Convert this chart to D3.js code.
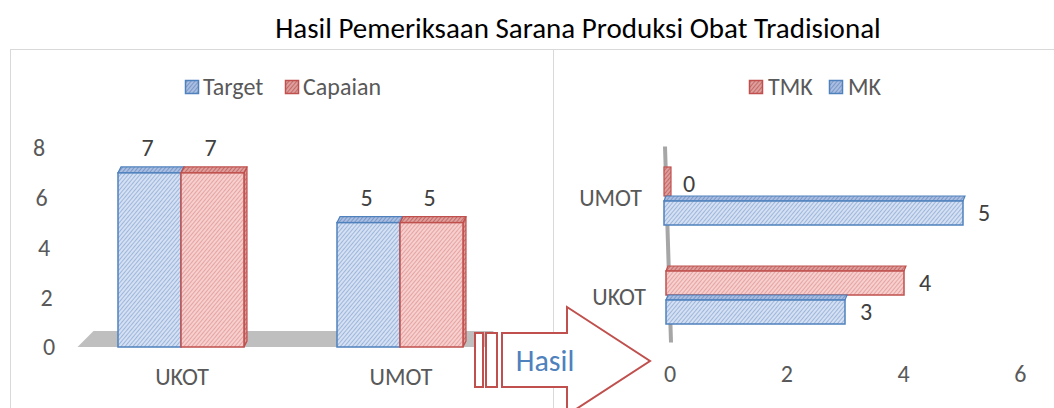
<!DOCTYPE html>
<html>
<head>
<meta charset="utf-8">
<script src="https://cdn.jsdelivr.net/npm/d3@7/dist/d3.min.js"></script>
<style>
body{margin:0;background:#fff;}
svg text{font-family:Carlito, Calibri, Lato, sans-serif;}
</style>
</head>
<body>
<svg id="chart" width="1054" height="408"></svg>
<script>
var title = 'Hasil Pemeriksaan Sarana Produksi Obat Tradisional'

// left chart
var leftCategories = ['UKOT', 'UMOT']
var leftSeries = ['Target', 'Capaian']
var targetValues = [7, 5]
var capaianValues = [7, 5]
var leftTicks = [0, 2, 4, 6, 8]

// right chart (top to bottom)
var rightCategories = ['UMOT', 'UKOT']
var rightSeries = ['TMK', 'MK']
var tmkValues = [0, 4]
var mkValues = [5, 3]
var rightTicks = [0, 2, 4, 6]

var arrowLabel = 'Hasil'

var svg = d3.select('#chart')
var defs = svg.append('defs')

var palette = {
	blue: {bg: '#d5e1f2', line: '#9db6dd', top: '#a9bee0', topLine: '#7b98c9', stroke: '#4f81bd'},
	red: {bg: '#f6d0cf', line: '#e6a3a1', top: '#dc9f9d', topLine: '#c76966', stroke: '#c0504d'}
}
var seriesColor = {Target: 'blue', Capaian: 'red', TMK: 'red', MK: 'blue'}

function makePattern(id, bg, line){
	var p = defs.append('pattern')
		.attr('id', id)
		.attr('patternUnits', 'userSpaceOnUse')
		.attr('width', 3)
		.attr('height', 3)
		.attr('patternTransform', 'rotate(40)')
	p.append('rect').attr('width', 3).attr('height', 3).attr('fill', bg)
	p.append('line').attr('x1', 0.5).attr('y1', 0).attr('x2', 0.5).attr('y2', 3)
		.attr('stroke', line).attr('stroke-width', 1)
}
Object.keys(palette).forEach(function(k){
	makePattern('hatch-' + k, palette[k].bg, palette[k].line)
	makePattern('hatch-top-' + k, palette[k].top, palette[k].topLine)
})

// panel borders
svg.append('line').attr('x1', 10).attr('x2', 1054).attr('y1', 49.5).attr('y2', 49.5).attr('stroke', '#d9d9d9')
svg.append('line').attr('x1', 10.5).attr('x2', 10.5).attr('y1', 49).attr('y2', 408).attr('stroke', '#d9d9d9')
svg.append('line').attr('x1', 553.5).attr('x2', 553.5).attr('y1', 49).attr('y2', 408).attr('stroke', '#d9d9d9')

svg.append('text')
	.attr('x', 578).attr('y', 28).attr('dy', '0.35em')
	.attr('text-anchor', 'middle')
	.attr('font-size', '29px')
	.attr('fill', '#000')
	.text(title)

// legend helper
function legend(items, xs, textXs){
	items.forEach(function(name, i){
		var c = palette[seriesColor[name]]
		svg.append('rect')
			.attr('x', xs[i] + 0.5).attr('y', 80.5).attr('width', 13).attr('height', 13)
			.attr('fill', 'url(#hatch-top-' + seriesColor[name] + ')')
			.attr('stroke', c.stroke).attr('stroke-width', 1.5)
		svg.append('text')
			.attr('x', textXs[i]).attr('y', 87).attr('dy', '0.35em')
			.attr('font-size', '24px').attr('fill', '#595959')
			.text(name)
	})
}

// ---------- left chart ----------
var x0 = d3.scaleBand().domain(leftCategories).range([71.5, 509.5])
var x1 = d3.scaleBand().domain(leftSeries).range([-63, 63])
var y = d3.scaleLinear().domain([0, 8]).range([347, 148])

legend(leftSeries, [185, 285], [203, 303])

// floor
var floorL = x0(leftCategories[0])
var floorR = x0.range()[1]
svg.append('polygon')
	.attr('points', [[floorL + 6, y(0)], [floorR - 20, y(0)], [floorR - 16, y(0) - 16], [floorL + 22, y(0) - 16]].join(' '))
	.attr('fill', '#bfbfbf')

svg.selectAll('.ytick').data(leftTicks).enter()
	.append('text')
	.attr('class', 'ytick')
	.attr('x', function(d){ return 49 - d * 1.25 })
	.attr('y', function(d){ return y(d) })
	.attr('dy', '0.35em')
	.attr('text-anchor', 'middle')
	.attr('font-size', '24px').attr('fill', '#595959')
	.text(function(d){ return d })

var leftData = []
leftCategories.forEach(function(c, i){
	leftData.push({cat: c, series: 'Target', value: targetValues[i]})
	leftData.push({cat: c, series: 'Capaian', value: capaianValues[i]})
})

var depthX = 3, depthY = -6
var bars = svg.selectAll('.lbar').data(leftData).enter()
	.append('g').attr('class', 'lbar')
bars.each(function(d){
	var g = d3.select(this)
	var c = palette[seriesColor[d.series]]
	var col = seriesColor[d.series]
	var xl = x0(d.cat) + x0.bandwidth() / 2 + x1(d.series)
	var xr = xl + x1.bandwidth()
	var yt = y(d.value), yb = y(0)
	// side face
	g.append('polygon')
		.attr('points', [[xr, yt], [xr + depthX, yt + depthY], [xr + depthX, yb + depthY], [xr, yb]].join(' '))
		.attr('fill', 'url(#hatch-top-' + col + ')').attr('stroke', c.stroke).attr('stroke-width', 1.2)
	// top face
	g.append('polygon')
		.attr('points', [[xl, yt], [xl + depthX, yt + depthY], [xr + depthX, yt + depthY], [xr, yt]].join(' '))
		.attr('fill', 'url(#hatch-top-' + col + ')').attr('stroke', c.stroke).attr('stroke-width', 1.2)
	// front face
	g.append('rect')
		.attr('x', xl).attr('y', yt).attr('width', xr - xl).attr('height', yb - yt)
		.attr('fill', 'url(#hatch-' + col + ')').attr('stroke', c.stroke).attr('stroke-width', 1.5)
	g.append('text')
		.attr('x', (xl + xr) / 2 - 2).attr('y', yt - 25).attr('dy', '0.35em')
		.attr('text-anchor', 'middle')
		.attr('font-size', '24px').attr('fill', '#404040')
		.text(d.value)
})

svg.selectAll('.lcat').data(leftCategories).enter()
	.append('text')
	.attr('class', 'lcat')
	.attr('x', function(d){ return x0(d) + x0.bandwidth() / 2 + 1 })
	.attr('y', 377).attr('dy', '0.35em')
	.attr('text-anchor', 'middle')
	.attr('font-size', '24px').attr('fill', '#595959')
	.text(function(d){ return d })

// ---------- right chart ----------
var xr = d3.scaleLinear().domain([0, 6]).range([668, 1022])
var yr0 = d3.scaleBand().domain(rightCategories).range([146.5, 344.5])
var yr1 = d3.scaleBand().domain(rightSeries).range([-29, 29])

legend(rightSeries, [749, 829], [768, 848])

// axis wall
svg.append('polygon')
	.attr('points', [[xr(0) - 5, yr0.range()[0]], [xr(0) - 1, yr0.range()[0]], [xr(0) + 5, yr0.range()[1] - 2], [xr(0) + 1, yr0.range()[1] - 2]].join(' '))
	.attr('fill', '#a6a6a6')

var rightData = []
rightCategories.forEach(function(c, i){
	rightData.push({cat: c, series: 'TMK', value: tmkValues[i]})
	rightData.push({cat: c, series: 'MK', value: mkValues[i]})
})

var hDepth = 5
svg.selectAll('.rbar').data(rightData).enter()
	.append('g').attr('class', 'rbar')
	.each(function(d){
		var g = d3.select(this)
		var c = palette[seriesColor[d.series]]
		var col = seriesColor[d.series]
		var ci = rightCategories.indexOf(d.cat)
		var tilt = ci * 2
		var yt = yr0(d.cat) + yr0.bandwidth() / 2 + yr1(d.series)
		var yb = yt + yr1.bandwidth()
		var xa = xr(0) - 4 + tilt, xb = xr(d.value)
		if (d.value === 0) {
			g.append('rect')
				.attr('x', xa).attr('y', yt).attr('width', 7).attr('height', yb - yt)
				.attr('fill', 'url(#hatch-top-' + col + ')').attr('stroke', c.stroke).attr('stroke-width', 1.2)
		} else {
			g.append('polygon')
				.attr('points', [[xa, yt + hDepth], [xa + 2, yt], [xb + 2, yt], [xb, yt + hDepth]].join(' '))
				.attr('fill', 'url(#hatch-top-' + col + ')').attr('stroke', c.stroke).attr('stroke-width', 1.2)
			g.append('rect')
				.attr('x', xa).attr('y', yt + hDepth).attr('width', xb - xa).attr('height', yb - yt - hDepth)
				.attr('fill', 'url(#hatch-' + col + ')').attr('stroke', c.stroke).attr('stroke-width', 1.5)
		}
		g.append('text')
			.attr('x', xr(d.value) + 21).attr('y', (yt + yb) / 2 + 2).attr('dy', '0.35em')
			.attr('text-anchor', 'middle')
			.attr('font-size', '24px').attr('fill', '#404040')
			.text(d.value)
	})

svg.selectAll('.rcat').data(rightCategories).enter()
	.append('text')
	.attr('class', 'rcat')
	.attr('x', function(d, i){ return 642 + i * 4 })
	.attr('y', function(d){ return yr0(d) + yr0.bandwidth() / 2 + 2 })
	.attr('dy', '0.35em')
	.attr('text-anchor', 'end')
	.attr('font-size', '24px').attr('fill', '#595959')
	.text(function(d){ return d })

svg.selectAll('.xtick').data(rightTicks).enter()
	.append('text')
	.attr('class', 'xtick')
	.attr('x', function(d){ return xr(d) + 2 - d * 0.6 })
	.attr('y', 374).attr('dy', '0.35em')
	.attr('text-anchor', 'middle')
	.attr('font-size', '24px').attr('fill', '#595959')
	.text(function(d){ return d })

// ---------- arrow ----------
var arrow = svg.append('g')
arrow.append('rect').attr('x', 475).attr('y', 333).attr('width', 8).attr('height', 54)
	.attr('fill', '#fff').attr('stroke', '#c0504d').attr('stroke-width', 2)
arrow.append('rect').attr('x', 486).attr('y', 333).attr('width', 11).attr('height', 54)
	.attr('fill', '#fff').attr('stroke', '#c0504d').attr('stroke-width', 2)
arrow.append('polygon')
	.attr('points', '502,333 567,333 567,307 650,361 567,415 567,387 502,387')
	.attr('fill', '#fff').attr('stroke', '#c0504d').attr('stroke-width', 2)
arrow.append('text')
	.attr('x', 545).attr('y', 360).attr('dy', '0.35em')
	.attr('text-anchor', 'middle')
	.attr('font-size', '30px').attr('fill', '#4f81bd')
	.text(arrowLabel)
</script>
</body>
</html>
